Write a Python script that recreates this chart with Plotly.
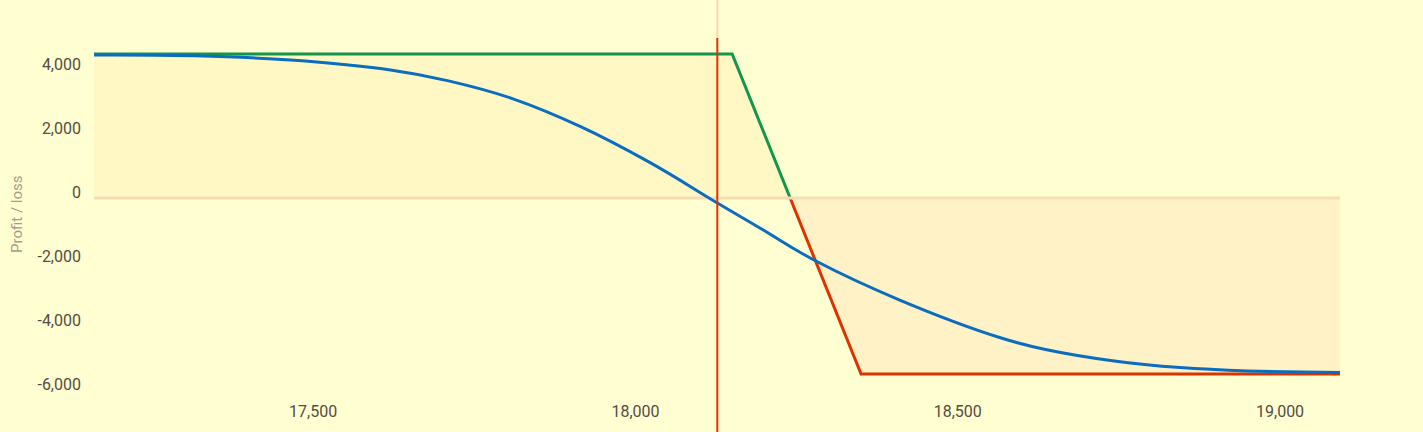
import plotly.graph_objects as go

# ---- data ----
spot = 18127
profit_x = [17160, 18150, 18240]
profit_y = [4500, 4500, 0]
loss_x = [18240, 18350, 19093]
loss_y = [0, -5500, -5500]
t0_x = [17160, 17310, 17465, 17620, 17710, 17810, 17915, 18020, 18127, 18195,
        18280, 18410, 18565, 18640, 18740, 18845, 18950, 19093]
t0_y = [4470, 4445, 4310, 4000, 3660, 3100, 2230, 1135, -155, -960,
        -1970, -3190, -4360, -4750, -5085, -5300, -5405, -5450]
x_ticks = [17500, 18000, 18500, 19000]
y_ticks = [4000, 2000, 0, -2000, -4000, -6000]
y_ticktext = ["4,000", "2,000", "0", "-2,000", "-4,000", "-6,000"]
x_range = [17160, 19093]
y_range = [-6312.5, 6187.5]

BG = "#FFFFD2"
GREEN = "#12964A"
RED = "#DD3300"
BLUE = "#0A6DBF"

fig = go.Figure()
fig.add_trace(go.Scatter(x=profit_x, y=[0] * len(profit_x), mode="lines",
                         line=dict(width=0), hoverinfo="skip", showlegend=False))
fig.add_trace(go.Scatter(x=profit_x, y=profit_y, mode="lines", fill="tonexty",
                         fillcolor="#FFF8C4", line=dict(color=GREEN, width=3),
                         showlegend=False))
fig.add_trace(go.Scatter(x=loss_x, y=[0] * len(loss_x), mode="lines",
                         line=dict(width=0), hoverinfo="skip", showlegend=False))
fig.add_trace(go.Scatter(x=loss_x, y=loss_y, mode="lines", fill="tonexty",
                         fillcolor="#FFF2C6", line=dict(color=RED, width=3),
                         showlegend=False))

# zero line above the fills
fig.add_trace(go.Scatter(x=x_range, y=[0, 0], mode="lines",
                         line=dict(color="#F7DDB5", width=3), hoverinfo="skip",
                         showlegend=False))

fig.add_trace(go.Scatter(x=t0_x, y=t0_y, mode="lines",
                         line=dict(color=BLUE, width=3, shape="spline", smoothing=1.2),
                         showlegend=False))

# spot lines
yfrac_top = (5000 - y_range[0]) / (y_range[1] - y_range[0])
fig.add_shape(type="line", xref="x", yref="paper", x0=spot, x1=spot, y0=-0.08,
              y1=yfrac_top, line=dict(color=RED, width=2))
fig.add_shape(type="line", xref="x", yref="paper", x0=spot, x1=spot,
              y0=yfrac_top, y1=1.0, line=dict(color="#F8D8B4", width=2))

fig.add_annotation(text="Profit / loss", xref="paper", yref="y",
                   x=(17 - 94) / 1246, y=-500, textangle=-90, showarrow=False,
                   xanchor="center", yanchor="middle",
                   font=dict(family="Roboto", size=15, color="#A89A8A"))

fig.update_layout(
    width=1423, height=432,
    margin=dict(l=94, r=83, t=0, b=32),
    paper_bgcolor=BG, plot_bgcolor=BG,
    font=dict(family="Roboto", size=16, color="#554B44"),
    xaxis=dict(range=x_range, tickvals=x_ticks, tickformat=",d", showgrid=False,
               zeroline=False, showline=False, ticks=""),
    yaxis=dict(range=y_range, tickvals=y_ticks, ticktext=y_ticktext, showgrid=False,
               zeroline=False, showline=False, ticks="", ticklabelshift=-6,
               ticklabelstandoff=12),
)

fig.write_html("out.html", config={"displayModeBar": False},
               post_script="document.body.style.margin='0';document.body.style.background='%s';" % BG)
